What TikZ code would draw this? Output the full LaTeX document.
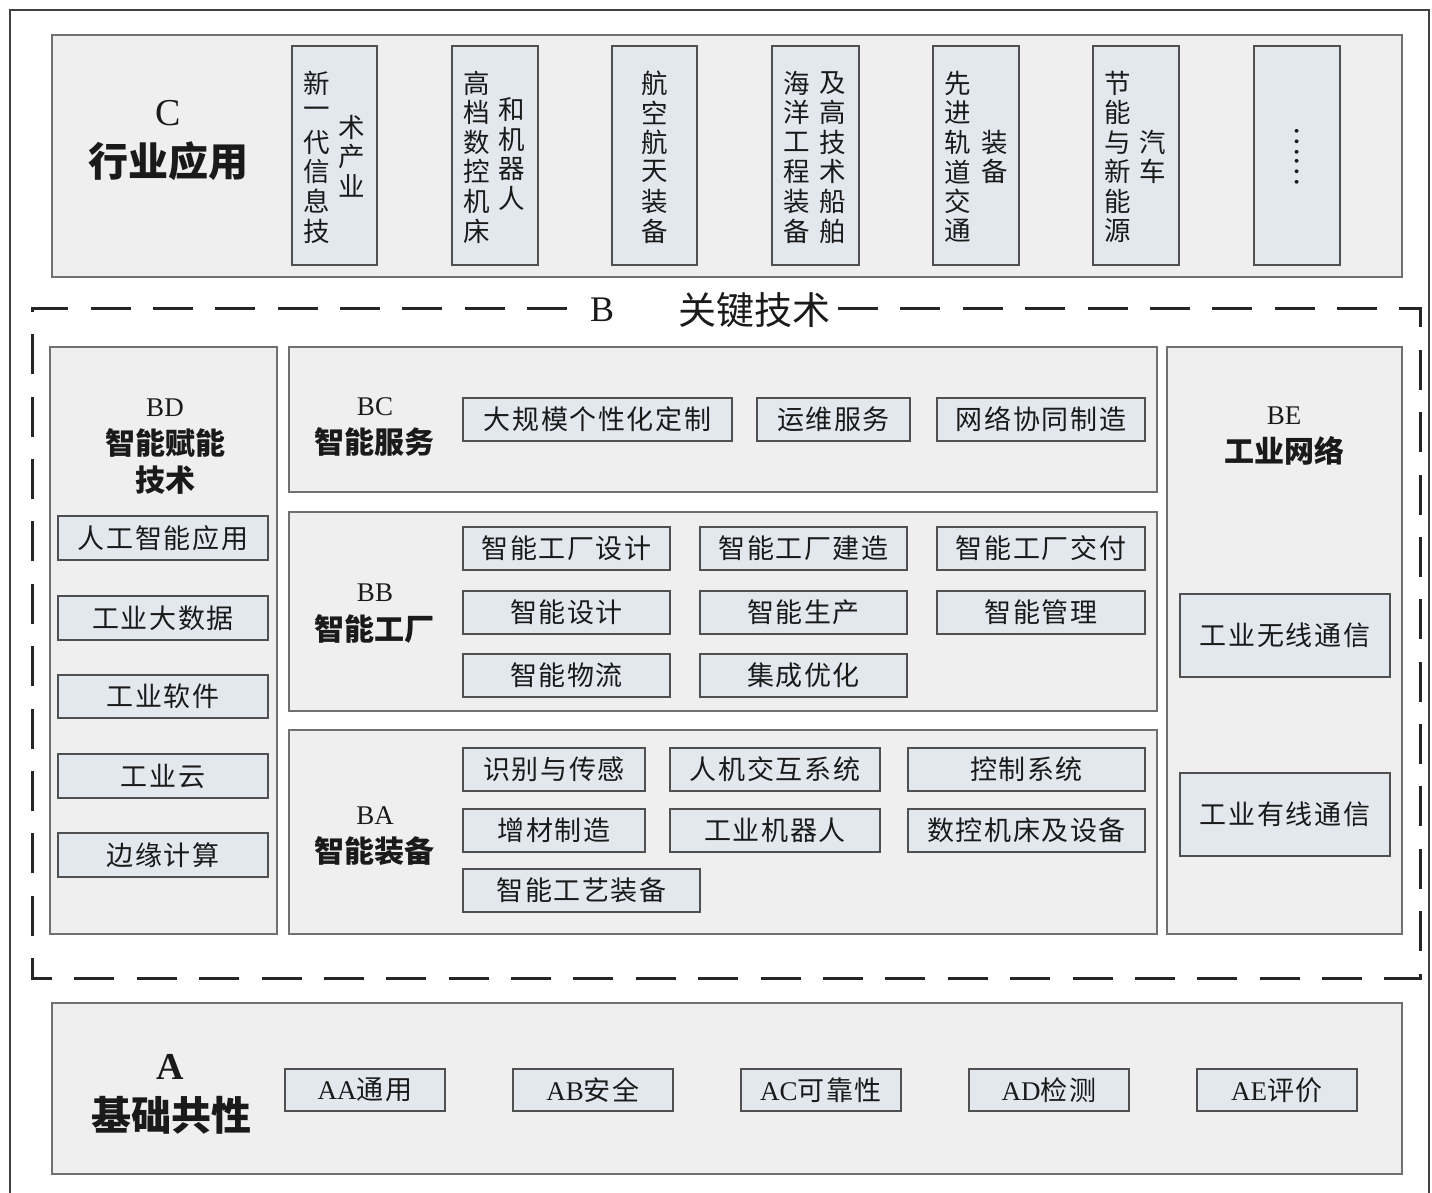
\documentclass[tikz,border=0pt]{standalone}
\usepackage{fontspec}
\setmainfont{Noto Sans CJK SC}
\newfontfamily\lat{Liberation Serif}
\newfontfamily\itemf[LetterSpace=6]{Noto Sans CJK SC}
\definecolor{panelfill}{HTML}{EFEFEF}
\definecolor{panelline}{HTML}{707070}
\definecolor{itemfill}{HTML}{E3E8EF}
\definecolor{itemline}{HTML}{505050}
\definecolor{ink}{HTML}{1A1A1A}
\newcommand\pbox[5]{%
  \pgfmathsetmacro\myCX{(#2+#4)/2}\pgfmathsetmacro\myCY{(#3+#5)/2}%
  \pgfmathsetmacro\myW{#4-#2}\pgfmathsetmacro\myH{#5-#3}%
  \node[panel, minimum width=\myW pt, minimum height=\myH pt] (#1) at (\myCX,\myCY) {};}
\newcommand\ibox[6]{%
  \pgfmathsetmacro\myCX{(#2+#4)/2}\pgfmathsetmacro\myCY{(#3+#5)/2}%
  \pgfmathsetmacro\myW{#4-#2}\pgfmathsetmacro\myH{#5-#3}%
  \node[itembox, minimum width=\myW pt, minimum height=\myH pt] (#1) at (\myCX,\myCY) {#6};}
\newcommand\vcol[4]{%
  \foreach \ch [count=\k from 0] in {#4} {\node[vch] (#1\k) at (#2, #3+29.6*\k) {\ch};}}
\begin{document}
\begin{tikzpicture}[x=1pt,y=-1pt,
  panel/.style={draw=panelline, fill=panelfill, line width=1.5pt, inner sep=0pt},
  itembox/.style={draw=itemline, fill=itemfill, line width=1.6pt, inner sep=0pt, text=ink,
    font={\itemf\fontsize{27}{32}\selectfont}},
  vch/.style={inner sep=0pt, text=ink, font={\fontsize{26.5}{30}\selectfont}},
  head/.style={inner sep=0pt, text=ink, font={\bfseries\fontsize{30}{34}\selectfont}},
  headlat/.style={inner sep=0pt, text=ink, font={\lat\fontsize{27}{30}\selectfont}},
  big/.style={inner sep=0pt, text=ink, font={\bfseries\fontsize{40}{44}\selectfont}},
  biglat/.style={inner sep=0pt, text=ink, font={\lat\fontsize{38}{42}\selectfont}},
  dashframe/.style={draw=black!85, line width=3pt, dash pattern=on 40pt off 22.38pt}
]
\useasboundingbox (0,0) rectangle (1432,1192);
\fill[white] (0,0) rectangle (1432,1192);
% outer frame
\draw[black!75, line width=2pt] (10,1196) -- (10,10) -- (1429,10) -- (1429,1196);

% ---------------- C ----------------
\pbox{Cpanel}{52}{35}{1402}{277}
\node[biglat] (Cletter) at (168,113) {C};
\node[big] (Ctitle) at (168,161) {行业应用};
\ibox{c1}{292}{46}{377}{265}{}
\ibox{c2}{452}{46}{538}{265}{}
\ibox{c3}{612}{46}{697}{265}{}
\ibox{c4}{772}{46}{859}{265}{}
\ibox{c5}{933}{46}{1019}{265}{}
\ibox{c6}{1093}{46}{1179}{265}{}
\ibox{c7}{1254}{46}{1340}{265}{}
\vcol{c1l}{317}{83}{新,一,代,信,息,技}
\vcol{c1r}{352}{127}{术,产,业}
\vcol{c2l}{477}{83}{高,档,数,控,机,床}
\vcol{c2r}{512}{110}{和,机,器,人}
\vcol{c3l}{655}{83}{航,空,航,天,装,备}
\vcol{c4l}{797}{83}{海,洋,工,程,装,备}
\vcol{c4r}{833}{83}{及,高,技,术,船,舶}
\vcol{c5l}{958}{83}{先,进,轨,道,交,通}
\vcol{c5r}{995}{142}{装,备}
\vcol{c6l}{1118}{83}{节,能,与,新,能,源}
\vcol{c6r}{1153}{142}{汽,车}
\node[vch, rotate=-90, font={\fontsize{28}{32}\selectfont}] (c7dots) at (1297,156) {……};

% ---------------- B (dashed) ----------------
\coordinate (Bgl) at (567,308);
\coordinate (Bgr) at (838,308);
\draw[dashframe] (Bgr) -- (1420,308) -- (1420,978) -- (32,978) -- (32,308) -- (Bgl);
\node[biglat, font={\lat\fontsize{36}{40}\selectfont}] (Bletter) at (602,310) {B};
\node[inner sep=0pt, text=ink, font={\fontsize{38}{42}\selectfont}] (Btitle) at (754,310) {关键技术};

% BD
\pbox{BD}{50}{347}{277}{934}
\node[headlat] (BDa) at (165,408) {BD};
\node[head] (BDb) at (165,443) {智能赋能};
\node[head] (BDc) at (165,480) {技术};
\ibox{bd1}{58}{516}{268}{560}{人工智能应用}
\ibox{bd2}{58}{596}{268}{640}{工业大数据}
\ibox{bd3}{58}{675}{268}{718}{工业软件}
\ibox{bd4}{58}{754}{268}{798}{工业云}
\ibox{bd5}{58}{833}{268}{877}{边缘计算}

% BC
\pbox{BC}{289}{347}{1157}{492}
\node[headlat] (BCa) at (375,407) {BC};
\node[head] (BCb) at (374,442) {智能服务};
\ibox{bc1}{463}{398}{732}{441}{大规模个性化定制}
\ibox{bc2}{757}{398}{910}{441}{运维服务}
\ibox{bc3}{937}{398}{1145}{441}{网络协同制造}

% BB
\pbox{BB}{289}{512}{1157}{711}
\node[headlat] (BBa) at (375,593) {BB};
\node[head] (BBb) at (374,629) {智能工厂};
\ibox{bb1}{463}{527}{670}{570}{智能工厂设计}
\ibox{bb2}{700}{527}{907}{570}{智能工厂建造}
\ibox{bb3}{937}{527}{1145}{570}{智能工厂交付}
\ibox{bb4}{463}{591}{670}{634}{智能设计}
\ibox{bb5}{700}{591}{907}{634}{智能生产}
\ibox{bb6}{937}{591}{1145}{634}{智能管理}
\ibox{bb7}{463}{654}{670}{697}{智能物流}
\ibox{bb8}{700}{654}{907}{697}{集成优化}

% BA
\pbox{BA}{289}{730}{1157}{934}
\node[headlat] (BAa) at (375,816) {BA};
\node[head] (BAb) at (374,851) {智能装备};
\ibox{ba1}{463}{748}{645}{791}{识别与传感}
\ibox{ba2}{670}{748}{880}{791}{人机交互系统}
\ibox{ba3}{908}{748}{1145}{791}{控制系统}
\ibox{ba4}{463}{809}{645}{852}{增材制造}
\ibox{ba5}{670}{809}{880}{852}{工业机器人}
\ibox{ba6}{908}{809}{1145}{852}{数控机床及设备}
\ibox{ba7}{463}{869}{700}{912}{智能工艺装备}

% BE
\pbox{BE}{1167}{347}{1402}{934}
\node[headlat] (BEa) at (1284,416) {BE};
\node[head] (BEb) at (1284,451) {工业网络};
\ibox{be1}{1180}{594}{1390}{677}{工业无线通信}
\ibox{be2}{1180}{773}{1390}{856}{工业有线通信}

% ---------------- A ----------------
\pbox{Apanel}{52}{1003}{1402}{1174}
\node[biglat, font={\lat\bfseries\fontsize{38}{42}\selectfont}] (Aletter) at (170,1067) {A};
\node[big] (Atitle) at (171,1115) {基础共性};
\ibox{aa}{285}{1069}{445}{1111}{{\lat AA}通用}
\ibox{ab}{513}{1069}{673}{1111}{{\lat AB}安全}
\ibox{ac}{741}{1069}{901}{1111}{{\lat AC}可靠性}
\ibox{ad}{969}{1069}{1129}{1111}{{\lat AD}检测}
\ibox{ae}{1197}{1069}{1357}{1111}{{\lat AE}评价}
\end{tikzpicture}
\end{document}
